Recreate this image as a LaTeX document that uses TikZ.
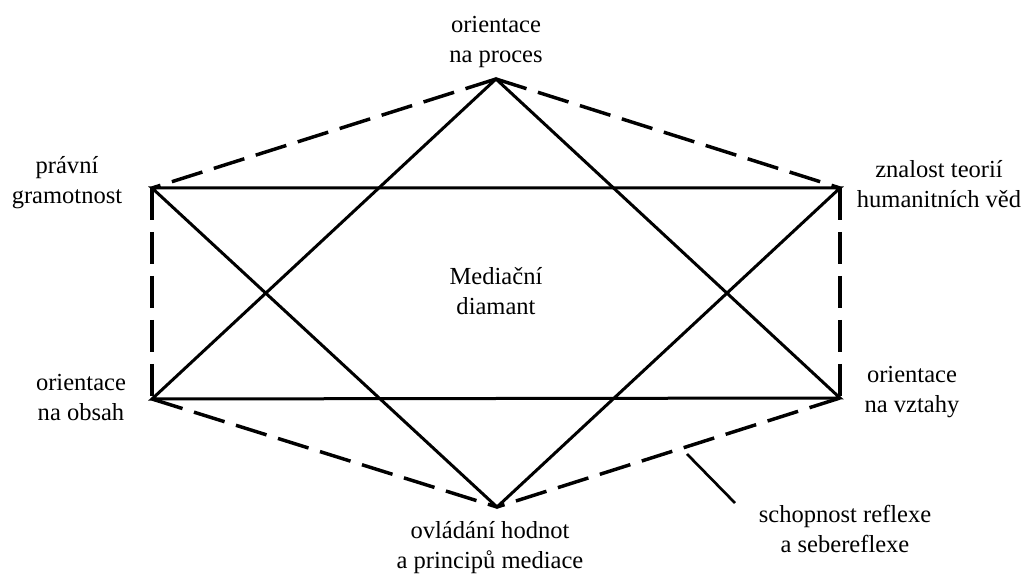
\documentclass[tikz,border=0pt]{standalone}
\usepackage{fontspec}
\setmainfont{Liberation Serif}

\tikzset{every picture/.style={line width=0.75pt}}
\tikzset{
  solidedge/.style={line width=2.25, line join=miter},
  dashedge/.style={line width=2.6, dash pattern=on 24pt off 9pt},
  lbl/.style={anchor=base, inner sep=0.75pt, align=center, font=\fontsize{18.4}{22.5}\selectfont}
}

\begin{document}
\begin{tikzpicture}[x=0.75pt,y=0.75pt,yscale=-1,xscale=1]
	\useasboundingbox (0,0) rectangle (1026,574);
	
	% Vertices
	\coordinate (top) at (496,79);
	\coordinate (ul) at (152,188);
	\coordinate (ur) at (840,188);
	\coordinate (ll) at (152,399);
	\coordinate (lr) at (840,398);
	\coordinate (bot) at (497,507);
	\coordinate (ptrA) at (687,454);
	\coordinate (ptrB) at (735,503);
	
	%Dashed Lines
	\draw [dashedge] (top) -- (ul);
	\draw [dashedge] (top) -- (ur);
	\draw [dashedge] (ul) -- (ll);
	\draw [dashedge] (ur) -- (lr);
	\draw [dashedge] (ll) -- (bot);
	\draw [dashedge] (lr) -- (bot);
	
	%Straight Lines
	\draw [solidedge] (top) -- (ll) -- (lr) -- cycle;
	\draw [solidedge] (ul) -- (ur) -- (bot) -- cycle;
	%Straight Lines
	\draw [line width=2] (ptrA) -- (ptrB);
	
	% Text Node
	\draw (496,63) node (proces) [lbl] {orientace\\na proces};
	% Text Node
	\draw (67,204) node (pravni) [lbl] {právní\\gramotnost};
	% Text Node
	\draw (939,208) node (znalost) [lbl] {znalost teorií\\humanitních věd};
	% Text Node
	\draw (496,315) node (diamant) [lbl] {Mediační\\diamant};
	% Text Node
	\draw (81,421) node (obsah) [lbl] {orientace\\na obsah};
	% Text Node
	\draw (912,412) node (vztahy) [lbl] {orientace\\na vztahy};
	% Text Node
	\draw (490,568) node (hodnot) [lbl] {ovládání hodnot\\a principů mediace};
	% Text Node
	\draw (845,552) node (reflexe) [lbl] {schopnost reflexe\\a sebereflexe};
	
\end{tikzpicture}
\end{document}
